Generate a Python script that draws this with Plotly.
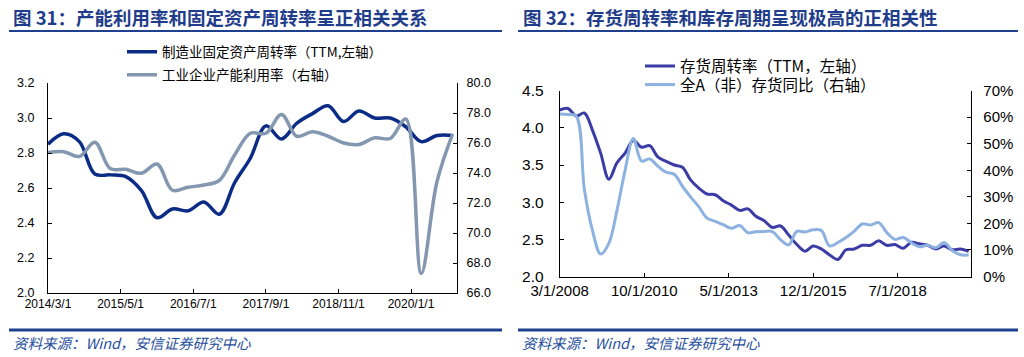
import plotly.graph_objects as go
import pandas as pd

# ---------------- data: left panel (quarterly) ----------------
left_dates = pd.date_range("2014-03-01", periods=27, freq="3MS")
fa_turnover = [2.85, 2.91, 2.865, 2.68, 2.675, 2.665, 2.585, 2.43, 2.48, 2.47, 2.52, 2.45,
               2.63, 2.77, 2.955, 2.88, 2.97, 3.025, 3.07, 2.98, 3.04, 3.00, 3.00, 2.95,
               2.865, 2.90, 2.90]
cap_util = [75.36, 75.42, 75.1, 76.05, 74.3, 74.25, 73.98, 74.6, 72.85, 73.05, 73.2, 73.5,
            75.2, 76.65, 76.65, 77.9, 76.45, 76.75, 76.45, 76.0, 75.9, 76.35, 76.3, 77.6,
            67.3, 73.4, 76.6]

# ---------------- data: right panel (quarterly) ----------------
right_dates = pd.date_range("2008-03-01", periods=51, freq="3MS")
inv_turnover = [4.24, 4.26, 4.16, 4.20, 3.97, 3.66, 3.31, 3.53, 3.66, 3.83,
                3.74, 3.76, 3.61, 3.55, 3.50, 3.47, 3.30, 3.19, 3.11, 3.10,
                3.02, 2.96, 2.89, 2.91, 2.81, 2.75, 2.66, 2.68, 2.56, 2.43,
                2.34, 2.41, 2.37, 2.29, 2.23, 2.36, 2.37, 2.42, 2.42, 2.48,
                2.42, 2.43, 2.38, 2.46, 2.44, 2.42, 2.37, 2.41, 2.36, 2.37, 2.34]
inv_yoy = [61.2, 61.0, 60.4, 33.0, 17.5, 8.5, 12.5, 25.0, 40.0, 52.0,
           43.5, 44.3, 41.6, 39.3, 38.5, 34.0, 30.0, 26.3, 22.0, 20.8,
           19.5, 18.2, 19.2, 16.5, 16.9, 17.0, 16.9, 13.8, 11.9, 17.0,
           16.8, 17.6, 17.3, 11.5, 12.8, 14.7, 17.0, 19.8, 19.4, 20.3,
           16.6, 14.0, 14.7, 12.7, 11.2, 11.8, 10.8, 12.8, 9.8, 8.2, 8.1]
inv_yoy_frac = [v / 100 for v in inv_yoy]

W, H = 1024, 357
def px(x):
    return x / W
def py(y):
    return 1 - y / H

NAVY = "#1f3d8a"
TXT_FONT = "Noto Sans CJK SC"
TICK_FONT = "Liberation Sans, Arial, sans-serif"

fig = go.Figure()

fig.add_trace(go.Scatter(x=left_dates, y=fa_turnover, mode="lines",
                         name="制造业固定资产周转率（TTM,左轴）",
                         line=dict(color="#0b2c86", width=3.5, shape="spline"),
                         xaxis="x", yaxis="y", legend="legend"))
fig.add_trace(go.Scatter(x=left_dates, y=cap_util, mode="lines",
                         name="工业企业产能利用率（右轴）",
                         line=dict(color="#8497b0", width=3.5, shape="spline"),
                         xaxis="x", yaxis="y2", legend="legend2"))
fig.add_trace(go.Scatter(x=right_dates, y=inv_turnover, mode="lines",
                         name="存货周转率（TTM，左轴）",
                         line=dict(color="#3b3ca6", width=3, shape="spline"),
                         xaxis="x2", yaxis="y3", legend="legend3"))
fig.add_trace(go.Scatter(x=right_dates, y=inv_yoy_frac, mode="lines",
                         name="全A（非）存货同比（右轴）",
                         line=dict(color="#8db1e0", width=3, shape="spline"),
                         xaxis="x2", yaxis="y4", legend="legend4"))

axis_common = dict(showgrid=False, zeroline=False, showline=True, linecolor="#000000",
                   linewidth=1, ticks="inside", ticklen=4, tickcolor="#000000",
                   automargin=False)

Lx0, Lx1, Ly0, Ly1 = 48, 457, 83, 293
Rx0, Rx1, Ry0, Ry1 = 559.7, 971.3, 90.7, 276.5

fig.update_layout(
    width=W, height=H, margin=dict(l=0, r=0, t=0, b=0, autoexpand=False),
    paper_bgcolor="white", plot_bgcolor="white",
    showlegend=True,
    xaxis=dict(domain=[px(Lx0), px(Lx1)], anchor="y", type="date",
               range=["2014-03-01", "2020-09-27"], tick0="2014-03-01", dtick="M14",
               tickformat="%Y/%-m/%-d", tickfont=dict(family=TICK_FONT, size=12, color="#000"),
               **axis_common),
    yaxis=dict(domain=[py(Ly1), py(Ly0)], anchor="x", range=[2.0, 3.2], dtick=0.2,
               tickformat=".1f", tickfont=dict(family=TICK_FONT, size=12.5, color="#000"),
               ticklabelstandoff=10, **axis_common),
    yaxis2=dict(overlaying="y", side="right", anchor="x", range=[66, 80], dtick=2,
                tickformat=".1f", tickfont=dict(family=TICK_FONT, size=12.5, color="#000"),
                ticklabelstandoff=6, **axis_common),
    xaxis2=dict(domain=[px(Rx0), px(Rx1)], anchor="y3", type="date",
                range=["2008-03-01", "2020-09-30"], tick0="2008-03-01", dtick="M31",
                tickformat="%-m/%-d/%Y", tickfont=dict(family=TICK_FONT, size=15, color="#000"),
                **axis_common),
    yaxis3=dict(domain=[py(Ry1), py(Ry0)], anchor="x2", range=[2.0, 4.5], dtick=0.5,
                tickformat=".1f", tickfont=dict(family=TICK_FONT, size=15.5, color="#000"),
                ticklabelstandoff=12, **axis_common),
    yaxis4=dict(overlaying="y3", side="right", anchor="x2", range=[0, 0.7], dtick=0.1,
                tickformat=".0%", tickfont=dict(family=TICK_FONT, size=15, color="#000"),
                ticklabelstandoff=8, **axis_common),
    legend=dict(x=px(122), y=py(52), xanchor="left", yanchor="middle",
                bgcolor="rgba(0,0,0,0)", font=dict(family=TXT_FONT, size=13.5, color="#000")),
    legend2=dict(x=px(122), y=py(75), xanchor="left", yanchor="middle",
                 bgcolor="rgba(0,0,0,0)", font=dict(family=TXT_FONT, size=13.5, color="#000")),
    legend3=dict(x=px(640), y=py(66.5), xanchor="left", yanchor="middle",
                 bgcolor="rgba(0,0,0,0)", font=dict(family=TXT_FONT, size=15.5, color="#000")),
    legend4=dict(x=px(640), y=py(85), xanchor="left", yanchor="middle",
                 bgcolor="rgba(0,0,0,0)", font=dict(family=TXT_FONT, size=15.5, color="#000")),
)

# titles
fig.add_annotation(x=px(11), y=py(17), xref="paper", yref="paper", xanchor="left",
                   yanchor="middle", showarrow=False,
                   text="<b>图 31：产能利用率和固定资产周转率呈正相关关系</b>",
                   font=dict(family=TXT_FONT, size=18.5, color=NAVY))
fig.add_annotation(x=px(521), y=py(17), xref="paper", yref="paper", xanchor="left",
                   yanchor="middle", showarrow=False,
                   text="<b>图 32：存货周转率和库存周期呈现极高的正相关性</b>",
                   font=dict(family=TXT_FONT, size=18.5, color=NAVY))
# sources
for sx in (11, 520):
    fig.add_annotation(x=px(sx), y=py(342), xref="paper", yref="paper", xanchor="left",
                       yanchor="middle", showarrow=False,
                       text="<i>资料来源：Wind，安信证券研究中心</i>",
                       font=dict(family=TXT_FONT, size=14.5, color="#1f4e9c"))

# rules
for (x0, x1) in ((9, 502), (518, 1018)):
    fig.add_shape(type="line", xref="paper", yref="paper", x0=px(x0), x1=px(x1),
                  y0=py(31), y1=py(31), line=dict(color="#1f3f8f", width=2))
    fig.add_shape(type="line", xref="paper", yref="paper", x0=px(x0), x1=px(x1),
                  y0=py(330), y1=py(330), line=dict(color="#1f3f8f", width=3))

fig.write_html("out.html", config={"displayModeBar": False},
               post_script="document.body.style.margin='0px';document.body.style.overflow='hidden';")
